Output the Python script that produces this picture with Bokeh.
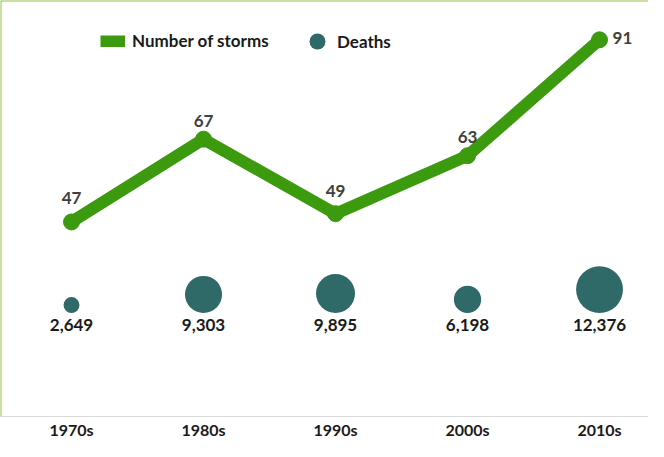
from bokeh.plotting import figure
from bokeh.models import Range1d, FixedTicker, Span, Legend, LegendItem, ColumnDataSource
from bokeh.core.properties import value
from bokeh.embed import file_html
from bokeh.resources import INLINE

# ---- data ----
decades = ["1970s", "1980s", "1990s", "2000s", "2010s"]
storms = [47, 67, 49, 63, 91]
deaths = [2649, 9303, 9895, 6198, 12376]

# ---- styling / layout constants ----
GREEN = "#3c9a0e"
TEAL = "#2f6968"
BORDER = "#8dc63f"
FONT = "Lato"
W, H = 648, 441
X_START, X_END = -0.538, 4.371
Y_START, Y_END = 0, 100.5
PX_PER_Y = 4.15
BUBBLE_BASE = 25.0
LABEL_DY = [-18, -12, -17, -13]   # pixel offsets of storm labels (style)

xs = list(range(len(decades)))
bubble_r = [(7.5 + 0.00319 * d) / 2 / PX_PER_Y for d in deaths]
bubble_y = [BUBBLE_BASE + r for r in bubble_r]

src = ColumnDataSource(dict(
    x=xs, storms=storms, deaths=deaths,
    death_lbl=[f"{d:,}" for d in deaths],
    by=[BUBBLE_BASE] * len(xs), bub_y=bubble_y, bub_r=bubble_r,
))

p = figure(width=W, height=H, output_backend="svg", toolbar_location=None,
           x_range=Range1d(X_START, X_END), y_range=Range1d(Y_START, Y_END),
           y_axis_location=None, min_border_left=0, min_border_right=0,
           min_border_top=0, min_border_bottom=0)
p.outline_line_color = None
p.background_fill_color = "white"
p.border_fill_color = "white"
p.xgrid.grid_line_color = None
p.ygrid.grid_line_color = None

# axis
ax = p.xaxis[0]
ax.ticker = FixedTicker(ticks=xs)
ax.major_label_overrides = {i: d for i, d in zip(xs, decades)}
ax.axis_line_color = "#d9d9d9"
ax.axis_line_width = 1
ax.major_tick_line_color = None
ax.major_tick_out = 0
ax.major_tick_in = 0
ax.minor_tick_line_color = None
ax.minor_tick_out = 0
ax.minor_tick_in = 0
ax.major_label_standoff = 3
ax.major_label_text_font = FONT
ax.major_label_text_font_style = "bold"
ax.major_label_text_font_size = "16px"
ax.major_label_text_color = "#1a1a1a"

# borders
p.add_layout(Span(location=Y_END, dimension="width", line_color=BORDER, line_width=2))
p.add_layout(Span(location=X_START, dimension="height", line_color=BORDER, line_width=2))

# storms line
line_r = p.line("x", "storms", source=src, line_color=GREEN, line_width=12,
                line_join="round", line_cap="butt")
p.scatter("x", "storms", source=src, size=16, color=GREEN)

# storm labels
n = len(xs)
lbl_src = ColumnDataSource(dict(x=xs[:n-1], y=storms[:n-1],
                                t=[str(s) for s in storms[:n-1]], dy=LABEL_DY))
p.text("x", "y", "t", source=lbl_src, text_align="center", text_baseline="bottom",
       y_offset="dy", text_font=value(FONT), text_font_style="bold",
       text_font_size="17px", text_color="#404040")
last_src = ColumnDataSource(dict(x=xs[n-1:], y=storms[n-1:], t=[str(s) for s in storms[n-1:]]))
p.text("x", "y", "t", source=last_src, text_align="left", text_baseline="middle",
       x_offset=13, y_offset=-2, text_font=value(FONT), text_font_style="bold",
       text_font_size="17px", text_color="#404040")

# deaths bubbles
bub_r = p.circle("x", "bub_y", radius="bub_r", radius_dimension="y", source=src,
                 fill_color=TEAL, line_color=None)
p.text("x", "by", "death_lbl", source=src, text_align="center", text_baseline="top",
       y_offset=6, text_font=value(FONT), text_font_style="bold",
       text_font_size="17px", text_color="#1a1a1a")

# legend
common = dict(orientation="horizontal", padding=0, margin=0, border_line_color=None,
              background_fill_alpha=0, label_text_font=FONT,
              label_text_font_style="bold", label_text_font_size="17px",
              label_text_color="#1a1a1a", label_height=20)
leg1 = Legend(items=[LegendItem(label="Number of storms", renderers=[line_r])],
              location=(100, 365), glyph_width=25, glyph_height=12,
              label_standoff=7, **common)
leg2 = Legend(items=[LegendItem(label="Deaths", renderers=[bub_r], index=0)],
              location=(297, 355), glyph_width=40, glyph_height=40,
              label_standoff=0, **common)
p.add_layout(leg1)
p.add_layout(leg2)

open("out.html", "w").write(file_html(p, INLINE))
